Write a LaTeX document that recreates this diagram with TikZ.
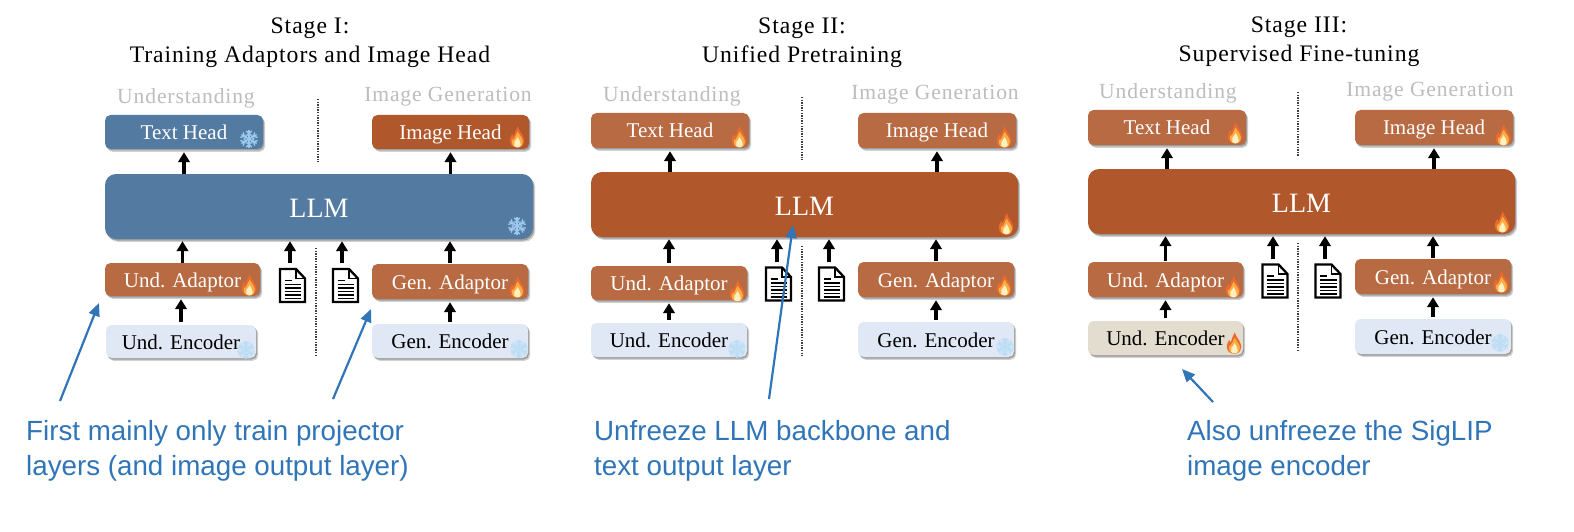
\documentclass[tikz,border=0pt]{standalone}
\usepackage{fontspec}
\setmainfont{Liberation Serif}
\newfontfamily\notefont{Liberation Sans}
\newfontfamily\wideserif[LetterSpace=4]{Liberation Serif}
\usetikzlibrary{arrows.meta,calc,shadows}

\definecolor{frozenblue}{HTML}{537BA1}
\definecolor{burnt}{HTML}{B0572B}
\definecolor{terracotta}{HTML}{B86A43}
\definecolor{encoderblue}{HTML}{DFE8F4}
\definecolor{encodersand}{HTML}{E2DDCE}
\definecolor{headergray}{HTML}{BDBDBD}
\definecolor{noteblue}{HTML}{2F75B8}
\definecolor{flameouter}{HTML}{EC6A2C}
\definecolor{flamemid}{HTML}{F9AE45}
\definecolor{flamecore}{HTML}{FEF0C0}
\definecolor{iceflake}{HTML}{9CC9EE}
\definecolor{paleflake}{HTML}{BBDDF6}

\tikzset{
  x=1pt, y=-1pt,
  block/.style={rounded corners=5.5pt, inner sep=0pt, align=center,
    text height=16pt, text depth=1pt,
    font=\fontsize{21}{23}\selectfont,
    drop shadow={shadow xshift=2.2pt, shadow yshift=-2.8pt, opacity=.18, fill=black},
    drop shadow={shadow xshift=1.1pt, shadow yshift=-1.5pt, opacity=.24, fill=black}},
  frozenhead/.style={block, fill=frozenblue, text=white},
  firehead/.style={block, fill=burnt, text=white},
  adaptorblock/.style={block, fill=terracotta, text=white},
  iceencoder/.style={block, fill=encoderblue, text=black},
  sandencoder/.style={block, fill=encodersand, text=black},
  backbone/.style={block, rounded corners=11pt, text height=22pt, text depth=0pt,
    font=\fontsize{28}{30}\selectfont, text=white},
  upflow/.style={-{Triangle[length=10pt,width=11.5pt]}, line width=3.4pt, black},
  divider/.style={line width=1.5pt, dash pattern=on 1.4pt off 1.2pt, black!75},
  modality/.style={text=headergray, inner sep=0pt, font=\fontsize{21.6}{23}\selectfont\wideserif},
  stagetitle/.style={align=center, inner sep=0pt,
    font=\fontsize{23.7}{29}\selectfont\wideserif},
  note/.style={anchor=north west, align=left, inner sep=0pt, text=noteblue,
    font=\fontsize{27.75}{35}\selectfont\notefont},
  notearrow/.style={-{Triangle[length=13pt,width=11pt]}, line width=2.2pt, noteblue},
  sheet/.style={minimum width=27pt, minimum height=35pt, inner sep=0pt},
}

% box from its corners: name, x1, y1, x2, y2, style, text
\newcommand\cornerbox[7]{%
  \pgfmathsetmacro\bw{#4-#2}\pgfmathsetmacro\bh{#5-#3}%
  \pgfmathsetmacro\bx{(#2+#4)/2}\pgfmathsetmacro\by{(#3+#5)/2}%
  \node[#6, minimum width=\bw pt, minimum height=\bh pt] (#1) at (\bx,\by) {#7};}

% flame badge
\newcommand\flame[2]{%
  \begin{scope}[shift={(#1,#2)}, scale=1.08]
    \fill[flameouter] (0.5,10) .. controls (-5,10) and (-7.5,6) .. (-6.5,1.5)
      .. controls (-6,-0.5) and (-5,-1) .. (-4.6,-2.8)
      .. controls (-3.8,-1.8) and (-3.5,-1.2) .. (-3,-0.5)
      .. controls (-2,-4) and (-1,-7) .. (0.8,-10)
      .. controls (1.2,-6) and (5.5,-3) .. (6.5,2)
      .. controls (7.2,6) and (4.8,10) .. (0.5,10) -- cycle;
    \fill[flamemid] (0.5,9.6) .. controls (-4,9.6) and (-5.6,6) .. (-4.6,2.6)
      .. controls (-3.4,3) and (-2.6,2) .. (-1.8,0)
      .. controls (-1.2,-2) and (0,-3.5) .. (0.8,-5)
      .. controls (1.5,-2) and (5.2,0) .. (5.4,4)
      .. controls (5.4,7.5) and (3.8,9.6) .. (0.5,9.6) -- cycle;
    \fill[flamecore] (0.5,9.6) .. controls (-2.6,9.6) and (-3.6,7) .. (-2.5,4.6)
      .. controls (-1.5,3) and (0,2) .. (0.6,0)
      .. controls (1.6,2.5) and (3.7,4.6) .. (3.5,7)
      .. controls (3.3,8.8) and (2,9.6) .. (0.5,9.6) -- cycle;
  \end{scope}}

% snowflake badge: x, y, colour, stroke width
\newcommand\snowflake[4]{%
  \begin{scope}[shift={(#1,#2)}, draw=#3, line width=#4pt, line cap=round]
    \foreach \a in {0,60,...,300}{
      \begin{scope}[rotate=\a]
        \draw (0,0) -- (0,-8.5);
        \draw (-2.6,-8) -- (0,-5.4) -- (2.6,-8);
        \draw (-1.8,-4.6) -- (0,-2.8) -- (1.8,-4.6);
      \end{scope}}
  \end{scope}}

% pale snowflake on a faint disc, for the light encoder boxes: x, y
\newcommand\paleflakebadge[2]{%
  \fill[paleflake, opacity=.35] (#1,#2) circle[radius=8.5pt];
  \snowflake{#1}{#2}{paleflake}{1.15}}

% document icon centred on a named node: name, x, y
\newcommand\sheeticon[3]{%
  \node[sheet] (#1) at (#2,#3) {};
  \begin{scope}[shift={(#1.center)}, line width=2.3pt, black]
    \draw[line join=miter, fill=white] (-12.5,-16.5) -- (3.5,-16.5) -- (12.5,-7) -- (12.5,16.5) -- (-12.5,16.5) -- cycle;
    \draw[line width=1.8pt] (3.5,-16.5) -- (3.5,-7) -- (12.5,-7);
    \draw[line width=1.6pt] (-8,-5) -- (-1,-5);
    \foreach \ly in {-1,2.5,6,9.5,13}{\draw[line width=1.6pt] (-8,\ly) -- (8.5,\ly);}
  \end{scope}}

% arrow pointing up from a node towards another: from, to, xshift, gap at start, gap at tip
\newcommand\upflowfrom[5]{%
  \draw[upflow, shorten <=#4pt, shorten >=#5pt]
    ([xshift=#3pt]#1.north) -- ([xshift=#3pt]#1.north |- #2.south);}

\begin{document}
\begin{tikzpicture}
\useasboundingbox (0,0) rectangle (1574,532);
\fill[white] (0,0) rectangle (1574,532);

%% ---------- Stage I ----------
\node[stagetitle] (titleA) at (310,42.5) {Stage I:\\Training Adaptors and Image Head};
\node[modality] (undA) at (186,98) {Understanding};
\node[modality] (genA) at (448,97) {Image Generation};
\coordinate (divAa) at (318,99); \coordinate (divAb) at (318,162);
\coordinate (divAc) at (316,248); \coordinate (divAd) at (316,357);
\draw[divider] (divAa) -- (divAb);
\draw[divider] (divAc) -- (divAd);
\cornerbox{thA}{105}{115}{263}{149}{frozenhead}{Text Head}
\cornerbox{ihA}{372}{115}{529}{149}{firehead}{Image Head}
\cornerbox{llmA}{105}{174}{533}{239}{backbone, fill=frozenblue}{LLM}
\cornerbox{uaA}{105}{263}{260}{296}{adaptorblock}{Und. Adaptor}
\cornerbox{gaA}{372}{264}{528}{299}{adaptorblock}{Gen. Adaptor}
\cornerbox{ueA}{106}{325}{256}{358}{iceencoder}{Und. Encoder}
\cornerbox{geA}{372}{324}{528}{358}{iceencoder}{Gen. Encoder}
\sheeticon{docAa}{292.5}{285.5}
\sheeticon{docAb}{345.5}{285.5}
\draw[upflow, shorten >=3pt] (thA.south |- llmA.north) -- (thA.south);
\draw[upflow, shorten >=3pt] (ihA.south |- llmA.north) -- (ihA.south);
\draw[upflow, shorten >=2pt] (uaA.north) -- (uaA.north |- llmA.south);
\draw[upflow, shorten >=2pt, shorten <=1pt] (gaA.north) -- (gaA.north |- llmA.south);
\draw[upflow, shorten >=3pt, shorten <=3pt] (ueA.north) -- (ueA.north |- uaA.south);
\draw[upflow, shorten >=3pt, shorten <=2pt] (geA.north) -- (geA.north |- gaA.south);
\upflowfrom{docAa}{llmA}{-2.5}{5}{2}
\upflowfrom{docAb}{llmA}{-3.5}{5}{2}
\snowflake{249}{139}{iceflake}{1.4}
\snowflake{517}{226}{iceflake}{1.4}
\flame{517}{137}
\flame{249}{285}
\flame{517}{287}
\paleflakebadge{246}{350}
\paleflakebadge{519}{349}

%% ---------- Stage II ----------
\node[stagetitle] (titleB) at (802,42.5) {Stage II:\\Unified Pretraining};
\node[modality] (undB) at (672,96) {Understanding};
\node[modality] (genB) at (935,95) {Image Generation};
\coordinate (divBa) at (802,97); \coordinate (divBb) at (802,160);
\coordinate (divBc) at (802,246); \coordinate (divBd) at (802,356);
\draw[divider] (divBa) -- (divBb);
\draw[divider] (divBc) -- (divBd);
\cornerbox{thB}{591}{113}{749}{148}{adaptorblock}{Text Head}
\cornerbox{ihB}{858}{113}{1016}{148}{adaptorblock}{Image Head}
\cornerbox{llmB}{591}{172}{1018}{237}{backbone, fill=burnt}{LLM}
\cornerbox{uaB}{591}{266}{747}{300}{adaptorblock}{Und. Adaptor}
\cornerbox{gaB}{858}{262}{1014}{297}{adaptorblock}{Gen. Adaptor}
\cornerbox{ueB}{591}{323}{747}{357}{iceencoder}{Und. Encoder}
\cornerbox{geB}{858}{322}{1014}{357}{iceencoder}{Gen. Encoder}
\sheeticon{docBa}{778.5}{284}
\sheeticon{docBb}{831.5}{284}
\draw[upflow, shorten >=3pt] (thB.south |- llmB.north) -- (thB.south);
\draw[upflow, shorten >=3pt] (ihB.south |- llmB.north) -- (ihB.south);
\draw[upflow, shorten >=2pt, shorten <=3pt] (uaB.north) -- (uaB.north |- llmB.south);
\draw[upflow, shorten >=2pt, shorten <=1pt] (gaB.north) -- (gaB.north |- llmB.south);
\draw[upflow, shorten >=3pt, shorten <=3pt] (ueB.north) -- (ueB.north |- uaB.south);
\draw[upflow, shorten >=3pt, shorten <=2pt] (geB.north) -- (geB.north |- gaB.south);
\upflowfrom{docBa}{llmB}{-1.5}{4}{2}
\upflowfrom{docBb}{llmB}{-2.5}{4}{2}
\flame{739}{137}
\flame{1004}{137}
\flame{1006}{224}
\flame{737}{291}
\flame{1004}{285}
\paleflakebadge{737}{349}
\paleflakebadge{1005}{347}

%% ---------- Stage III ----------
\node[stagetitle] (titleC) at (1299,42) {Stage III:\\Supervised Fine-tuning};
\node[modality] (undC) at (1168,93) {Understanding};
\node[modality] (genC) at (1430,92) {Image Generation};
\coordinate (divCa) at (1298,92); \coordinate (divCb) at (1298,156);
\coordinate (divCc) at (1298,243); \coordinate (divCd) at (1298,352);
\draw[divider] (divCa) -- (divCb);
\draw[divider] (divCc) -- (divCd);
\cornerbox{thC}{1088}{110}{1246}{145}{adaptorblock}{Text Head}
\cornerbox{ihC}{1355}{110}{1513}{145}{adaptorblock}{Image Head}
\cornerbox{llmC}{1088}{169}{1515}{234}{backbone, fill=burnt}{LLM}
\cornerbox{uaC}{1088}{262}{1243}{297}{adaptorblock}{Und. Adaptor}
\cornerbox{gaC}{1355}{259}{1511}{294}{adaptorblock}{Gen. Adaptor}
\cornerbox{ueC}{1088}{321}{1243}{355}{sandencoder}{Und. Encoder}
\cornerbox{geC}{1355}{319}{1511}{354}{iceencoder}{Gen. Encoder}
\sheeticon{docCa}{1275}{281}
\sheeticon{docCb}{1328}{281}
\draw[upflow, shorten >=3pt] (thC.south |- llmC.north) -- (thC.south);
\draw[upflow, shorten >=3pt] (ihC.south |- llmC.north) -- (ihC.south);
\draw[upflow, shorten >=2pt, shorten <=1pt] (uaC.north) -- (uaC.north |- llmC.south);
\draw[upflow, shorten >=2pt, shorten <=1pt] (gaC.north) -- (gaC.north |- llmC.south);
\draw[upflow, shorten >=3pt, shorten <=3pt] (ueC.north) -- (ueC.north |- uaC.south);
\draw[upflow, shorten >=3pt, shorten <=2pt] (geC.north) -- (geC.north |- gaC.south);
\upflowfrom{docCa}{llmC}{-2}{4}{2}
\upflowfrom{docCb}{llmC}{-3}{4}{2}
\flame{1235}{133}
\flame{1503}{135}
\flame{1502}{222}
\flame{1233}{287}
\flame{1501}{282}
\flame{1234}{343}
\paleflakebadge{1500}{343}

%% ---------- Notes ----------
\node[note] (noteA) at (26,420) {First mainly only train projector\\layers (and image output layer)};
\node[note] (noteB) at (594,420) {Unfreeze LLM backbone and\\text output layer};
\node[note] (noteC) at (1187,420) {Also unfreeze the SigLIP\\image encoder};
\coordinate (tailAa) at (60,401); \coordinate (tipAa) at (99,303);
\coordinate (tailAb) at (333,399); \coordinate (tipAb) at (371,309);
\coordinate (tailB) at (769,399); \coordinate (tipB) at (793,225);
\coordinate (tailC) at (1213,402); \coordinate (tipC) at (1182,369);
\draw[notearrow] (tailAa) -- (tipAa);
\draw[notearrow] (tailAb) -- (tipAb);
\draw[notearrow] (tailB) -- (tipB);
\draw[notearrow] (tailC) -- (tipC);
\end{tikzpicture}
\end{document}
